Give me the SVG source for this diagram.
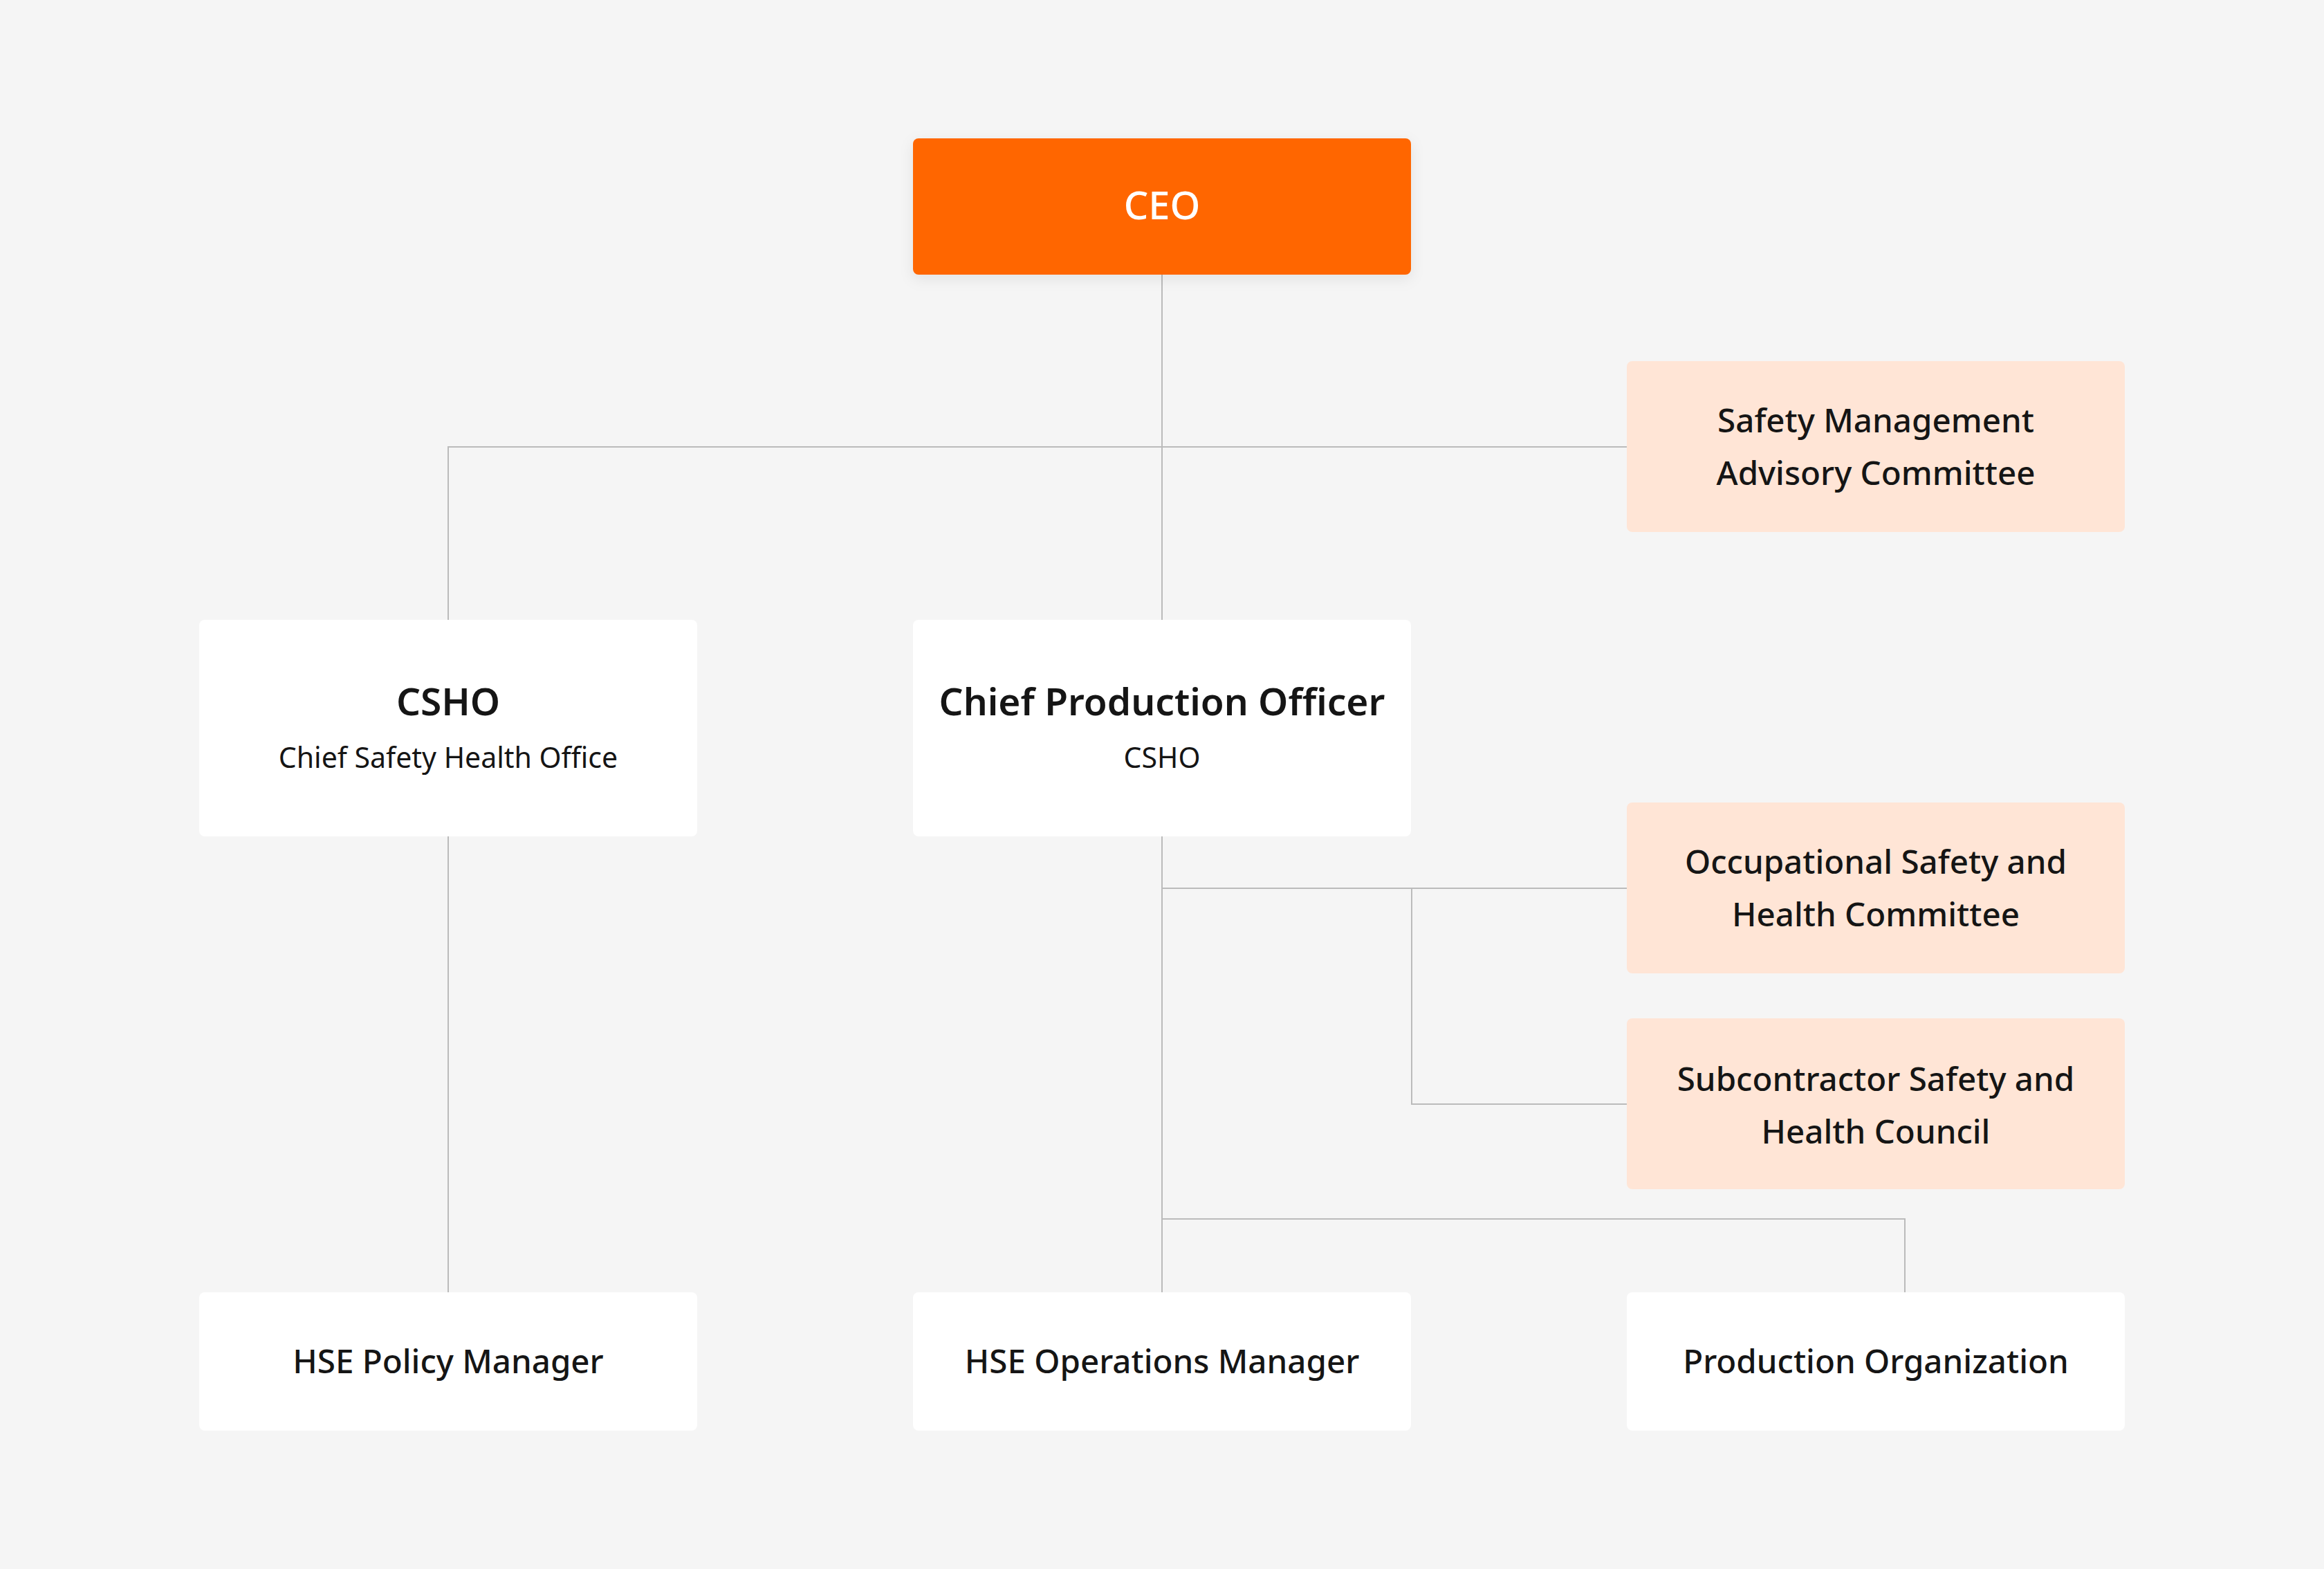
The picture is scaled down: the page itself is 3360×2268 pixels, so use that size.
<svg xmlns="http://www.w3.org/2000/svg" width="3360" height="2268" viewBox="0 0 3360 2268">
  <defs>
    <filter id="shadow" x="-10%" y="-20%" width="120%" height="150%">
      <feDropShadow dx="0" dy="6" stdDeviation="10" flood-color="#000000" flood-opacity="0.08"/>
    </filter>
    <style>
      .bg { fill: #F5F5F5; }
      .ceo { fill: #FF6600; }
      .white { fill: #FFFFFF; }
      .peach { fill: #FFE5D6; }
      .conn { stroke: #BBBBBB; stroke-width: 2; fill: none; }
      text { font-family: "Noto Sans", "Open Sans", "Liberation Sans", sans-serif; text-anchor: middle; fill: #151515; }
      .ceo-t { fill: #FFFFFF; font-size: 56px; font-weight: 500; }
      .title { font-size: 55px; font-weight: 600; }
      .sub { font-size: 41px; font-weight: 400; }
      .lbl { font-size: 47.5px; font-weight: 500; }
    </style>
  </defs>
  <rect class="bg" x="0" y="0" width="3360" height="2268"/>

  <g id="connectors">
    <path class="conn" d="M1680 397 V896"/>
    <path class="conn" d="M648 896 V646 H2352"/>
    <path class="conn" d="M648 1209 V1868"/>
    <path class="conn" d="M1680 1209 V1868"/>
    <path class="conn" d="M1680 1284 H2352"/>
    <path class="conn" d="M2041 1284 V1596 H2352"/>
    <path class="conn" d="M1680 1762 H2754 V1868"/>
  </g>

  <g id="ceo">
    <rect class="ceo" x="1320" y="200" width="720" height="197" rx="8" filter="url(#shadow)"/>
    <text class="ceo-t" x="1680" y="317">CEO</text>
  </g>

  <g id="safety-management-advisory-committee">
    <rect class="peach" x="2352" y="522" width="720" height="247" rx="8"/>
    <text class="lbl" x="2712" y="625">Safety Management</text>
    <text class="lbl" x="2712" y="701">Advisory Committee</text>
  </g>

  <g id="csho">
    <rect class="white" x="288" y="896" width="720" height="313" rx="8"/>
    <text class="title" x="648" y="1034">CSHO</text>
    <text class="sub" x="648" y="1110">Chief Safety Health Office</text>
  </g>

  <g id="chief-production-officer">
    <rect class="white" x="1320" y="896" width="720" height="313" rx="8"/>
    <text class="title" x="1680" y="1034">Chief Production Officer</text>
    <text class="sub" x="1680" y="1110">CSHO</text>
  </g>

  <g id="occupational-safety-health-committee">
    <rect class="peach" x="2352" y="1160" width="720" height="247" rx="8"/>
    <text class="lbl" x="2712" y="1263">Occupational Safety and</text>
    <text class="lbl" x="2712" y="1339">Health Committee</text>
  </g>

  <g id="subcontractor-safety-health-council">
    <rect class="peach" x="2352" y="1472" width="720" height="247" rx="8"/>
    <text class="lbl" x="2712" y="1577">Subcontractor Safety and</text>
    <text class="lbl" x="2712" y="1653">Health Council</text>
  </g>

  <g id="hse-policy-manager">
    <rect class="white" x="288" y="1868" width="720" height="200" rx="8"/>
    <text class="lbl" x="648" y="1985">HSE Policy Manager</text>
  </g>

  <g id="hse-operations-manager">
    <rect class="white" x="1320" y="1868" width="720" height="200" rx="8"/>
    <text class="lbl" x="1680" y="1985">HSE Operations Manager</text>
  </g>

  <g id="production-organization">
    <rect class="white" x="2352" y="1868" width="720" height="200" rx="8"/>
    <text class="lbl" x="2712" y="1985">Production Organization</text>
  </g>
</svg>
